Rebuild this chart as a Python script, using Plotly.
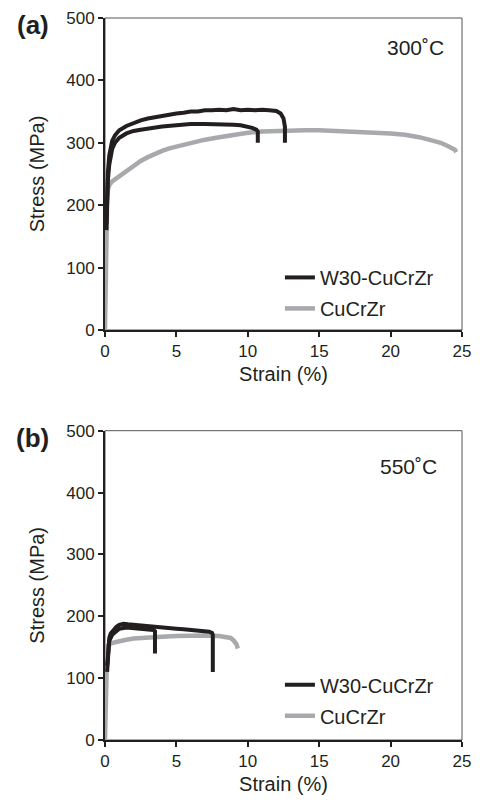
import plotly.graph_objects as go

# ---------------- data (strain %, stress MPa) ----------------
# Panel (a) 300 C
a_w30_1_strain = [0.1, 0.15, 0.2, 0.3, 0.4, 0.5, 0.7, 1.0, 1.5, 2, 2.5, 3, 3.5, 4, 4.5, 5, 5.5, 6, 6.5, 7,
                  7.5, 8, 8.5, 9, 9.5, 10, 10.5, 11, 11.5, 12, 12.3, 12.5, 12.6, 12.6]
a_w30_1_stress = [160, 220, 252, 280, 296, 303, 312, 320, 327, 332, 336, 339, 341, 344, 345, 347, 348, 350, 350, 352,
                  352, 353, 352, 354, 352, 353, 352, 353, 352, 351, 347, 339, 326, 300]
a_w30_2_strain = [0.1, 0.15, 0.2, 0.3, 0.4, 0.5, 0.7, 1.0, 1.5, 2, 2.5, 3, 3.5, 4, 5, 6, 7, 8, 9, 9.5,
                  10, 10.3, 10.6, 10.7, 10.7]
a_w30_2_stress = [170, 215, 240, 265, 280, 290, 300, 308, 315, 319, 321, 323, 325, 326, 328, 330, 330, 330, 329, 328,
                  326, 324, 321, 318, 300]
a_cu_strain = [0, 0.05, 0.1, 0.15, 0.2, 0.3, 0.5, 0.8, 1, 1.5, 2, 2.5, 3, 3.5, 4, 4.5, 5, 6, 7, 8, 9, 10,
               11, 12, 13, 14, 15, 16, 17, 18, 19, 20, 21, 22, 23, 23.5, 24, 24.5, 24.6]
a_cu_stress = [0, 100, 170, 210, 225, 232, 238, 243, 247, 256, 264, 271, 277, 283, 287, 291, 294, 300, 305, 309, 313, 316,
               318, 319, 320, 320, 320, 319, 319, 318, 317, 315, 313, 309, 303, 300, 295, 289, 285]

# Panel (b) 550 C
b_w30_1_strain = [0.15, 0.2, 0.25, 0.3, 0.4, 0.6, 0.8, 1.0, 1.3, 1.6, 2, 2.5, 3, 3.5, 4, 4.5, 5, 5.5, 6, 6.5,
                  7, 7.3, 7.5, 7.55, 7.55]
b_w30_1_stress = [110, 125, 150, 165, 172, 178, 183, 186, 188, 187, 186, 185, 184, 183, 182, 181, 180, 179, 178, 177,
                  176, 175, 173, 170, 110]
b_w30_2_strain = [0.15, 0.2, 0.3, 0.5, 0.8, 1, 1.5, 2, 2.5, 3, 3.4, 3.5, 3.5]
b_w30_2_stress = [120, 140, 160, 170, 176, 180, 182, 181, 180, 179, 178, 176, 140]
b_cu_strain = [0, 0.05, 0.1, 0.15, 0.2, 0.4, 0.7, 1, 1.5, 2, 3, 4, 5, 6, 7, 8, 8.5, 8.8, 9, 9.2, 9.3]
b_cu_stress = [0, 80, 130, 148, 153, 156, 158, 160, 162, 164, 166, 167, 168, 169, 169, 168, 167, 165, 161, 155, 148]

x_ticks = [0, 5, 10, 15, 20, 25]
y_ticks = [0, 100, 200, 300, 400, 500]
labels = ["W30-CuCrZr", "CuCrZr"]
panel_titles = ["(a)", "(b)"]
temps = ["300˚C", "550˚C"]

BLACK = "#231f20"
GRAY = "#a7a9ac"
FONT = "Liberation Sans, Arial, sans-serif"

fig = go.Figure()

def add_panel(xa, ya, leg, cu, w30s):
    fig.add_trace(go.Scatter(x=cu[0], y=cu[1], mode="lines", name=labels[1],
                             line=dict(color=GRAY, width=4.5), xaxis=xa, yaxis=ya,
                             legend=leg, legendgroup=leg + "cu", legendrank=2))
    for i, (sx, sy) in enumerate(w30s):
        fig.add_trace(go.Scatter(x=sx, y=sy, mode="lines", name=labels[0],
                                 line=dict(color=BLACK, width=4), xaxis=xa, yaxis=ya,
                                 legend=leg, legendgroup=leg + "w30", legendrank=1,
                                 showlegend=(i == 0)))

add_panel("x", "y", "legend", (a_cu_strain, a_cu_stress),
          [(a_w30_1_strain, a_w30_1_stress), (a_w30_2_strain, a_w30_2_stress)])
add_panel("x2", "y2", "legend2", (b_cu_strain, b_cu_stress),
          [(b_w30_1_strain, b_w30_1_stress), (b_w30_2_strain, b_w30_2_stress)])

axis_common = dict(showgrid=False, zeroline=False, showline=True, linecolor=BLACK, linewidth=2,
                   ticks="outside", ticklen=5, tickwidth=1.5, tickcolor=BLACK, automargin=False,
                   ticklabeloverflow="allow",
                   tickfont=dict(family=FONT, size=17, color=BLACK))

xcfg = dict(axis_common, range=[0, 25], tickvals=x_ticks,
            title=dict(text="Strain (%)", font=dict(family=FONT, size=20, color=BLACK), standoff=7))
ycfg = dict(axis_common, range=[0, 500], tickvals=y_ticks,
            title=dict(text="Stress (MPa)", font=dict(family=FONT, size=20, color=BLACK), standoff=16))

fig.update_layout(
    width=464, height=793,
    margin=dict(l=97, r=10, t=10, b=61, autoexpand=False),
    paper_bgcolor="white", plot_bgcolor="white",
    xaxis=dict(xcfg, domain=[0, 1], anchor="y"),
    yaxis=dict(ycfg, domain=[0.5679, 1], anchor="x"),
    xaxis2=dict(xcfg, domain=[0, 1], anchor="y2"),
    yaxis2=dict(ycfg, domain=[0, 0.4284], anchor="x2"),
    legend=dict(x=0.49, y=0.6677, xanchor="left", yanchor="top", bgcolor="rgba(0,0,0,0)",
                font=dict(family=FONT, size=20, color=BLACK), tracegroupgap=2,
                traceorder="grouped"),
    legend2=dict(x=0.49, y=0.1035, xanchor="left", yanchor="top", bgcolor="rgba(0,0,0,0)",
                 font=dict(family=FONT, size=20, color=BLACK), tracegroupgap=2,
                 traceorder="grouped"),
    showlegend=True,
)

# thin frame on top/right
for xr, yr in [("x domain", "y domain"), ("x2 domain", "y2 domain")]:
    fig.add_shape(type="rect", xref=xr, yref=yr, x0=0, x1=1, y0=0, y1=1,
                  line=dict(color="#555555", width=1), layer="below")

# panel letters and temperatures
fig.add_annotation(text="<b>(a)</b>", xref="paper", yref="paper", x=-0.202, y=0.990,
                   xanchor="center", yanchor="middle",
                   showarrow=False, font=dict(family=FONT, size=26, color=BLACK))
fig.add_annotation(text="<b>(b)</b>", xref="paper", yref="paper", x=-0.202, y=0.4183,
                   xanchor="center", yanchor="middle",
                   showarrow=False, font=dict(family=FONT, size=26, color=BLACK))
fig.add_annotation(text=temps[0], xref="x domain", yref="y domain", x=0.871, y=0.905,
                   xanchor="center", yanchor="middle",
                   showarrow=False, font=dict(family=FONT, size=21, color=BLACK))
fig.add_annotation(text=temps[1], xref="x2 domain", yref="y2 domain", x=0.849, y=0.883,
                   xanchor="center", yanchor="middle",
                   showarrow=False, font=dict(family=FONT, size=21, color=BLACK))

fig.write_html("out.html")
